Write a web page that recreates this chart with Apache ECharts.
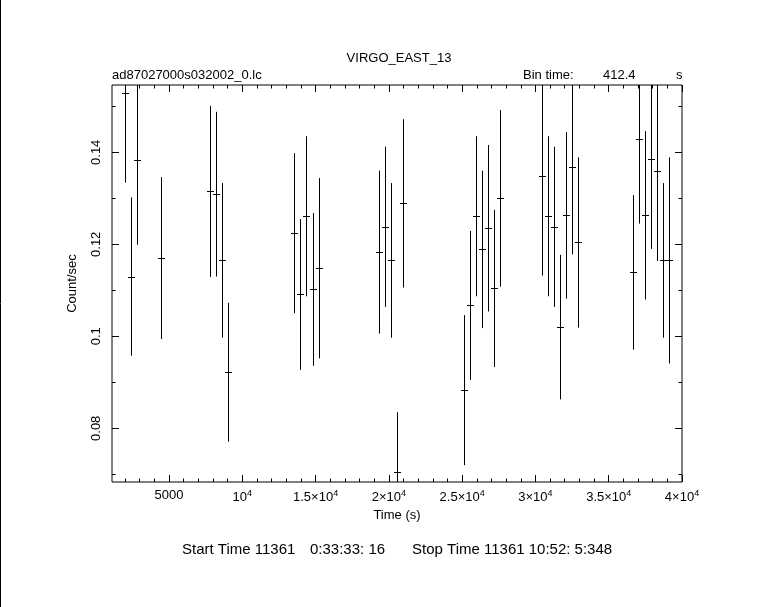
<!DOCTYPE html>
<html>
<head>
<meta charset="utf-8">
<script src="https://cdn.jsdelivr.net/npm/echarts@6/dist/echarts.min.js"></script>
<style>
html,body{margin:0;padding:0;background:#fff;}
#chart{width:765px;height:607px;}
</style>
</head>
<body>
<div id="chart"></div>
<script>
// ---- data ----
const times = [2019, 2428, 2837, 4475, 7797, 8227, 8637, 9046, 13549, 13958, 14367, 14845, 15254,
  19348, 19757, 20167, 20576, 20985, 25147, 25557, 25966, 26375, 26785, 27194, 27603,
  30469, 30878, 31288, 31697, 32106, 32516, 32925, 36678, 37087, 37493, 37906, 38315, 38725, 39134];
const rates = [0.1528, 0.1130, 0.1383, 0.1170, 0.1315, 0.1309, 0.1165, 0.0922, 0.1224, 0.1091, 0.1261, 0.1102, 0.1148,
  0.1183, 0.1238, 0.1165, 0.0704, 0.1289, 0.0883, 0.1067, 0.1261, 0.1189, 0.1235, 0.1104, 0.1300,
  0.1348, 0.1261, 0.1238, 0.1020, 0.1263, 0.1367, 0.1204, 0.1139, 0.1430, 0.1263, 0.1385, 0.1359, 0.1165, 0.1165];
const errors = [0.0194, 0.0172, 0.0184, 0.0176, 0.0186, 0.0179, 0.0168, 0.0151, 0.0174, 0.0164, 0.0174, 0.0166, 0.0196,
  0.0177, 0.0174, 0.0168, 0.0131, 0.0183, 0.0163, 0.0162, 0.0174, 0.0171, 0.0181, 0.0171, 0.0192,
  0.0216, 0.0174, 0.0174, 0.0157, 0.0181, 0.0189, 0.0185, 0.0168, 0.0185, 0.0183, 0.0195, 0.0195, 0.0168, 0.0224];
const binTime = 412.4;

const xTickValues = [5000, 10000, 15000, 20000, 25000, 30000, 35000, 40000];
const xTickLabels = ['5000', '10{sup|4}', '1.5×10{sup|4}', '2×10{sup|4}', '2.5×10{sup|4}', '3×10{sup|4}', '3.5×10{sup|4}', '4×10{sup|4}'];
const xMinorValues = [2000, 3000, 4000, 6000, 7000, 8000, 9000, 11000, 12000, 13000, 14000, 16000, 17000, 18000, 19000,
  21000, 22000, 23000, 24000, 26000, 27000, 28000, 29000, 31000, 32000, 33000, 34000, 36000, 37000, 38000, 39000];
const yTickValues = [0.08, 0.10, 0.12, 0.14];
const yTickLabels = ['0.08', '0.1', '0.12', '0.14'];
const yMinorValues = [0.07, 0.09, 0.11, 0.13, 0.15];

const xMin = 1110, xMax = 40000, yMin = 0.06833, yMax = 0.15463;

const FONT = 'Liberation Sans';
const F13 = '13px "' + FONT + '"';
const F15 = '15px "' + FONT + '"';
const chart = echarts.init(document.getElementById('chart'), null, {renderer: 'canvas'});

function xAxisDef(pos, values, len, withLabels) {
  return {
    type: 'value', position: pos, min: xMin, max: xMax, gridIndex: 0,
    axisLine: {show: false},
    splitLine: {show: false},
    axisTick: {show: true, inside: true, length: len, customValues: values, lineStyle: {color: '#000', width: 1}},
    axisLabel: withLabels ? {
      show: true, customValues: values, margin: 7, color: '#000', fontFamily: FONT, fontSize: 13,
      formatter: v => xTickLabels[xTickValues.indexOf(v)],
      rich: {sup: {fontSize: 9, fontFamily: FONT, color: '#000', padding: [0, 0, 8, 0]}}
    } : {show: false},
    name: withLabels ? 'Time (s)' : null, nameLocation: 'middle', nameGap: 25,
    nameTextStyle: {color: '#000', fontFamily: FONT, fontSize: 13}
  };
}
function yAxisDef(pos, values, len, withLabels) {
  return {
    type: 'value', position: pos, min: yMin, max: yMax, gridIndex: 0,
    axisLine: {show: false},
    splitLine: {show: false},
    axisTick: {show: true, inside: true, length: len, customValues: values, lineStyle: {color: '#000', width: 1}},
    axisLabel: withLabels ? {
      show: true, customValues: values, margin: 9, rotate: 90, color: '#000', fontFamily: FONT, fontSize: 13,
      formatter: v => yTickLabels[yTickValues.indexOf(v)]
    } : {show: false},
    name: withLabels ? 'Count/sec' : null, nameLocation: 'middle', nameGap: 33, nameRotate: 90,
    nameTextStyle: {color: '#000', fontFamily: FONT, fontSize: 13}
  };
}

const data = times.map((t, i) => [t, rates[i], errors[i]]);

chart.setOption({
  backgroundColor: '#fff',
  animation: false,
  grid: {left: 112, right: 83, top: 85, bottom: 125, show: true, borderColor: '#000', borderWidth: 1, backgroundColor: 'transparent'},
  xAxis: [
    xAxisDef('bottom', xTickValues, 7, true),
    xAxisDef('bottom', xMinorValues, 3.5, false),
    xAxisDef('top', xTickValues, 7, false),
    xAxisDef('top', xMinorValues, 3.5, false)
  ],
  yAxis: [
    yAxisDef('left', yTickValues, 7, true),
    yAxisDef('left', yMinorValues, 3.5, false),
    yAxisDef('right', yTickValues, 7, false),
    yAxisDef('right', yMinorValues, 3.5, false)
  ],
  graphic: [
    {type: 'line', shape: {x1: 0.5, y1: 0, x2: 0.5, y2: 607}, style: {stroke: '#000', lineWidth: 1}},
    {type: 'text', x: 399, y: 52, style: {text: 'VIRGO_EAST_13', fill: '#000', font: F13, textAlign: 'center', textVerticalAlign: 'top'}},
    {type: 'text', x: 112, y: 69, style: {text: 'ad87027000s032002_0.lc', fill: '#000', font: F13, textVerticalAlign: 'top'}},
    {type: 'text', x: 523, y: 69, style: {text: 'Bin time:', fill: '#000', font: F13, textVerticalAlign: 'top'}},
    {type: 'text', x: 603, y: 69, style: {text: '412.4', fill: '#000', font: F13, textVerticalAlign: 'top'}},
    {type: 'text', x: 676, y: 69, style: {text: 's', fill: '#000', font: F13, textVerticalAlign: 'top'}},
    {type: 'text', x: 182, y: 542, style: {text: 'Start Time 11361', fill: '#000', font: F15, textVerticalAlign: 'top'}},
    {type: 'text', x: 310, y: 542, style: {text: '0:33:33: 16', fill: '#000', font: F15, textVerticalAlign: 'top'}},
    {type: 'text', x: 412, y: 542, style: {text: 'Stop Time 11361 10:52: 5:348', fill: '#000', font: F15, textVerticalAlign: 'top'}}
  ],
  series: [{
    type: 'custom',
    xAxisIndex: 0, yAxisIndex: 0,
    clip: true,
    data: data,
    encode: {x: 0, y: 1},
    renderItem: function (params, api) {
      const t = api.value(0), v = api.value(1), e = api.value(2);
      const c = api.coord([t, v]);
      const lo = api.coord([t, v - e]);
      const hi = api.coord([t, v + e]);
      const l = api.coord([t - binTime / 2, v]);
      const r = api.coord([t + binTime / 2, v]);
      const xc = Math.round(c[0]) + 0.5, yc = Math.round(c[1]) + 0.5;
      return {
        type: 'group',
        children: [
          {type: 'line', shape: {x1: xc, y1: lo[1], x2: xc, y2: hi[1]}, style: {stroke: '#000', lineWidth: 1}},
          {type: 'line', shape: {x1: Math.round(l[0]), y1: yc, x2: Math.round(r[0]) + 1, y2: yc}, style: {stroke: '#000', lineWidth: 1}}
        ]
      };
    }
  }]
});
</script>
</body>
</html>
